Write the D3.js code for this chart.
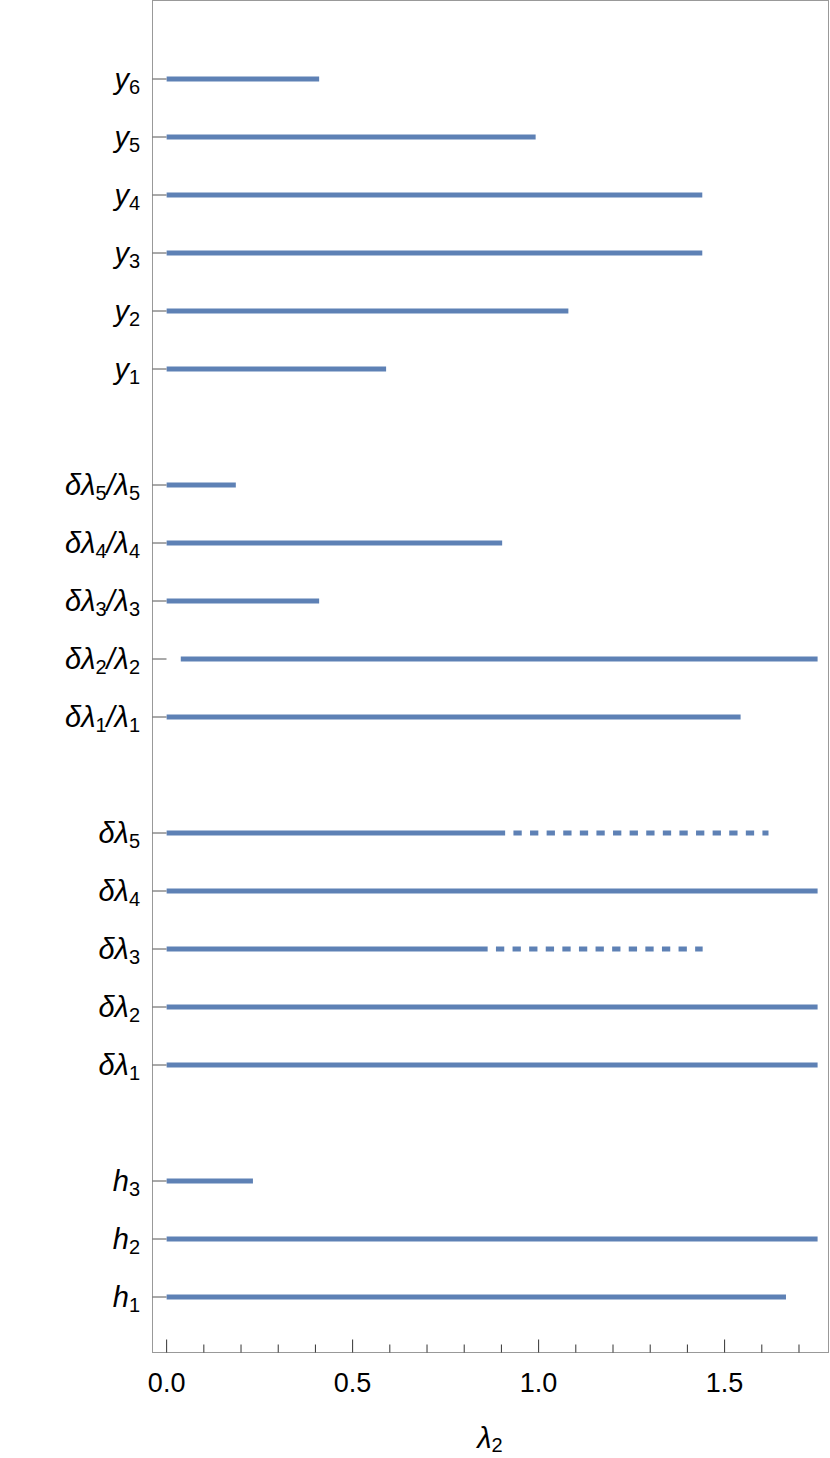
<!DOCTYPE html>
<html>
<head>
<meta charset="utf-8">
<script src="https://cdn.jsdelivr.net/npm/d3@7"></script>
<style>
html, body { margin: 0; padding: 0; background: #fff; }
svg { display: block; }
text { font-family: "Liberation Sans", Arial, sans-serif; fill: #000; }
</style>
</head>
<body>
<svg id="chart" width="830" height="1458"></svg>
<script>
// rows from bottom to top, "gap" rows are empty spacers
var rows = ["h_1", "h_2", "h_3", "gap1",
  "δλ_1", "δλ_2", "δλ_3", "δλ_4", "δλ_5", "gap2",
  "δλ_1/λ_1", "δλ_2/λ_2", "δλ_3/λ_3", "δλ_4/λ_4", "δλ_5/λ_5", "gap3",
  "y_1", "y_2", "y_3", "y_4", "y_5", "y_6"]

var barLabels = ["h_1", "h_2", "h_3",
  "δλ_1", "δλ_2", "δλ_3", "δλ_4", "δλ_5",
  "δλ_1/λ_1", "δλ_2/λ_2", "δλ_3/λ_3", "δλ_4/λ_4", "δλ_5/λ_5",
  "y_1", "y_2", "y_3", "y_4", "y_5", "y_6"]
var barStart = [0, 0, 0,
  0, 0, 0, 0, 0,
  0, 0.038, 0, 0, 0,
  0, 0, 0, 0, 0, 0]
var barEnd = [1.665, 1.75, 0.232,
  1.75, 1.75, 0.863, 1.75, 0.91,
  1.543, 1.75, 0.41, 0.902, 0.186,
  0.59, 1.08, 1.44, 1.44, 0.992, 0.41]
// dashed continuation (null = none)
var dashEnd = [null, null, null,
  null, null, 1.441, null, 1.618,
  null, null, null, null, null,
  null, null, null, null, null, null]

var majorTicks = [0, 0.5, 1.0, 1.5]
var minorTicks = [0.1, 0.2, 0.3, 0.4, 0.6, 0.7, 0.8, 0.9, 1.1, 1.2, 1.3, 1.4, 1.6, 1.7]

var barColor = "#5e81b5"
var svg = d3.select("#chart")

var x = d3.scaleLinear().domain([-0.038, 1.782]).range([152.5, 829.5])
var y = d3.scalePoint().domain(rows).range([1297, 79]).padding(0)
var frameBottom = 1352.5, frameTop = 0.5

// bars
barLabels.forEach(function(lab, i){
  svg.append("line")
    .attr("x1", x(barStart[i])).attr("x2", x(barEnd[i]))
    .attr("y1", y(lab)).attr("y2", y(lab))
    .attr("stroke", barColor).attr("stroke-width", 5)
  if (dashEnd[i] != null) {
    svg.append("line")
      .attr("x1", x(barEnd[i])).attr("x2", x(dashEnd[i]))
      .attr("y1", y(lab)).attr("y2", y(lab))
      .attr("stroke", barColor).attr("stroke-width", 5)
      .attr("stroke-dasharray", "8.3,8.3")
      .attr("stroke-dashoffset", 8.3)
  }
})

// frame
svg.append("rect")
  .attr("x", x.range()[0]).attr("y", frameTop)
  .attr("width", x.range()[1] - x.range()[0] - 1)
  .attr("height", frameBottom - frameTop)
  .attr("fill", "none").attr("stroke", "#999").attr("stroke-width", 1)

// y ticks and labels
barLabels.forEach(function(lab){
  svg.append("line")
    .attr("x1", x.range()[0]).attr("x2", x.range()[0] + 14)
    .attr("y1", y(lab)).attr("y2", y(lab))
    .attr("stroke", "#555").attr("stroke-width", 1)

  var t = svg.append("text")
    .attr("x", 140).attr("y", y(lab) + 10)
    .attr("text-anchor", "end")
    .style("font-size", "29px")
  var parts = lab.split(/_(\d)/)
  parts.forEach(function(p, j){
    if (p === "") return
    if (j % 2 == 1) {
      t.append("tspan").text(p)
        .style("font-size", "20px").attr("dy", 5)
    } else {
      var s = t.append("tspan").text(p).style("font-style", "italic")
      if (j > 0) s.attr("dy", -5)
    }
  })
})

// x ticks
majorTicks.forEach(function(v){
  svg.append("line")
    .attr("x1", x(v)).attr("x2", x(v))
    .attr("y1", frameBottom).attr("y2", frameBottom - 13)
    .attr("stroke", "#333").attr("stroke-width", 1)
  svg.append("text")
    .attr("x", x(v)).attr("y", 1392)
    .attr("text-anchor", "middle")
    .style("font-size", "27px")
    .text(d3.format(".1f")(v))
})
minorTicks.forEach(function(v){
  svg.append("line")
    .attr("x1", x(v)).attr("x2", x(v))
    .attr("y1", frameBottom).attr("y2", frameBottom - 8)
    .attr("stroke", "#333").attr("stroke-width", 1)
})

// axis title
var xt = svg.append("text")
  .attr("x", 490).attr("y", 1448)
  .attr("text-anchor", "middle")
  .style("font-size", "29px")
xt.append("tspan").text("λ").style("font-style", "italic")
xt.append("tspan").text("2").style("font-size", "20px").attr("dy", 4)
</script>
</body>
</html>
